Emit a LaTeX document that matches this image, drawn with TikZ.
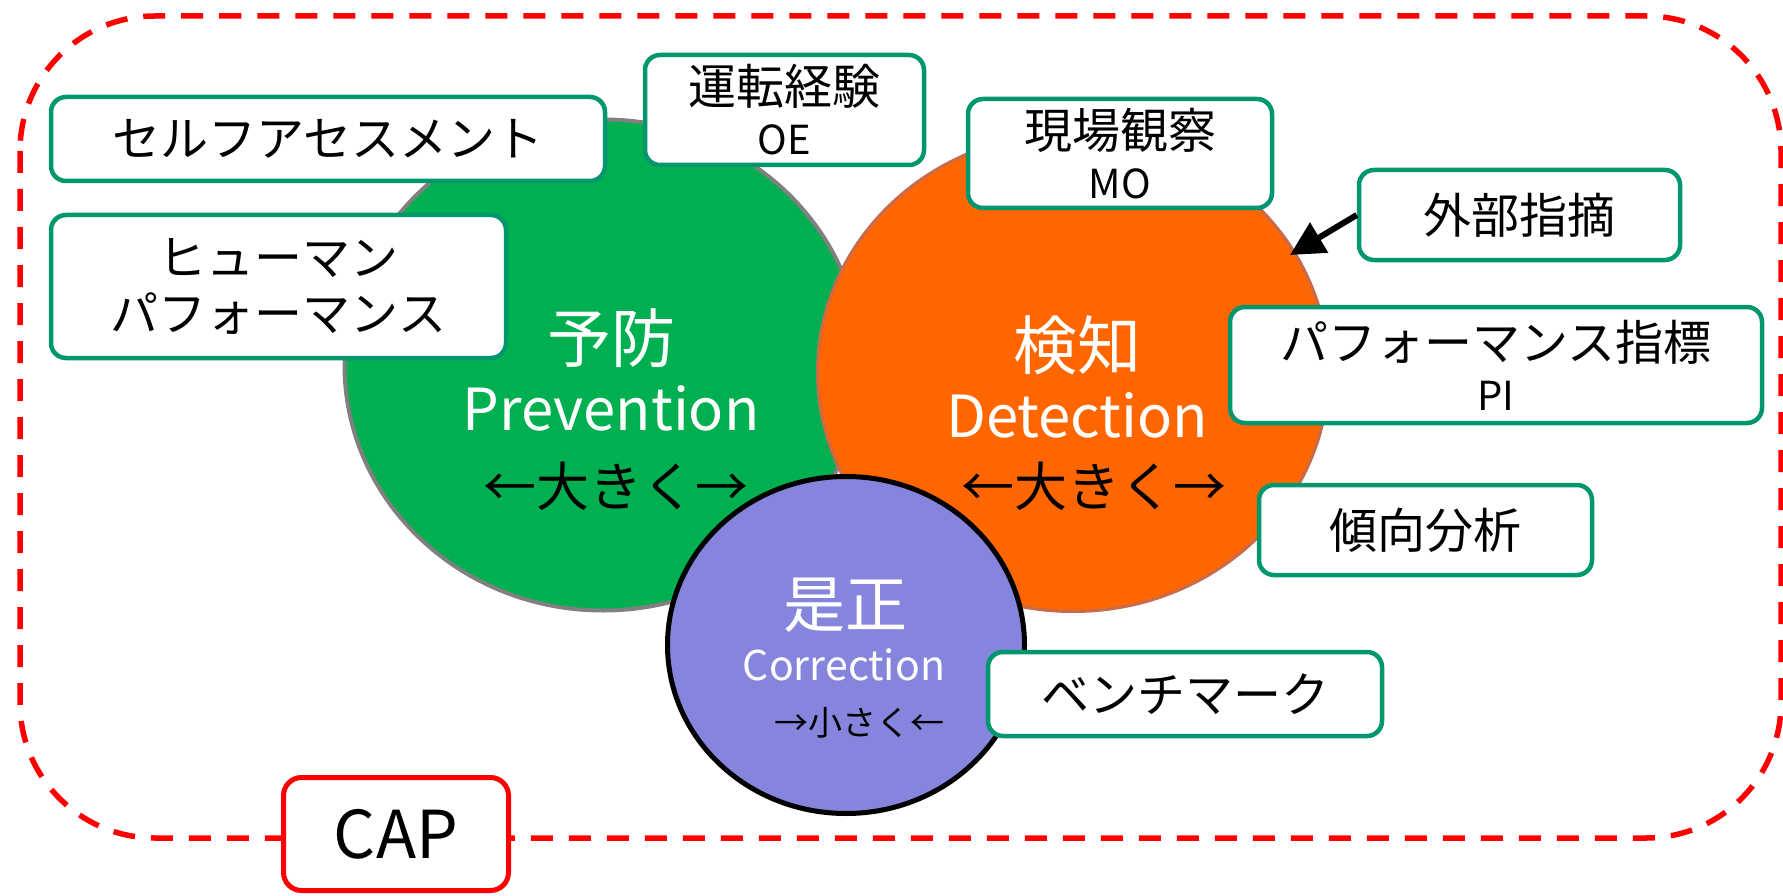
\documentclass[tikz,border=0pt]{standalone}
\usepackage{fontspec}
\setmainfont{Noto Sans CJK JP}
\usetikzlibrary{shapes.geometric,arrows.meta}
\definecolor{cgreen}{HTML}{00B050}
\definecolor{corange}{HTML}{FF6600}
\definecolor{cpurple}{HTML}{8585DD}
\definecolor{corangeline}{HTML}{C86A4C}
\definecolor{cgrayline}{HTML}{808080}
\definecolor{cboxline}{HTML}{00966E}
\definecolor{cred}{HTML}{FF0000}
\newcommand{\fs}[1]{\fontsize{#1}{#1}\selectfont}
\tikzset{
  infobox/.style={draw=cboxline, line width=4.5pt, fill=white, rounded corners=15pt,
    inner sep=0pt, align=center, text=black},
  blob/.style={ellipse, inner sep=0pt},
  intext/.style={text=white, inner sep=0pt},
  arrtext/.style={text=black, inner sep=0pt},
}
\begin{document}
\begin{tikzpicture}[x=1pt,y=-1pt]
\useasboundingbox (0,0) rectangle (1783,896);
% outer dashed frame
\draw[cred, line width=5.5pt, dash pattern=on 22pt off 16pt, rounded corners=135pt]
  (20,16) rectangle (1781,838);
% circles
\node[blob, fill=cgreen, draw=cgrayline, line width=4pt,
  minimum width=517pt, minimum height=491pt] (prev) at (603,365) {};
\node[blob, fill=corange, draw=corangeline, line width=3pt,
  minimum width=511pt, minimum height=479pt] (det) at (1073,372) {};
\node[blob, fill=cpurple, draw=black, line width=5pt,
  minimum width=357pt, minimum height=337pt] (corr) at (846,645) {};
% circle texts
\node[intext, font=\fs{64}] (tprev) at (611,338) {予防};
\node[intext, font=\fs{58}] (tprevE) at (611,408) {Prevention};
\node[arrtext, font=\fs{53}] (tprevA) at (616,486) {←大きく→};
\node[intext, font=\fs{64}] (tdet) at (1077,345) {検知};
\node[intext, font=\fs{58}] (tdetE) at (1077,415) {Detection};
\node[arrtext, font=\fs{53}] (tdetA) at (1094,486) {←大きく→};
\node[intext, font=\fs{62}] (tcorr) at (845,605) {是正};
\node[intext, font=\fs{41}] (tcorrE) at (844,665) {Correction};
\node[arrtext, font=\fs{34}] (tcorrA) at (859,723) {→小さく←};
% boxes
\node[infobox, minimum width=554pt, minimum height=84pt, font=\fs{48}] (self) at (328,139) {セルフアセスメント};
\node[infobox, minimum width=455pt, minimum height=143pt, font=\fontsize{48}{56}\selectfont] (hp) at (278.5,286.5) {ヒューマン\\パフォーマンス};
\node[infobox, minimum width=279pt, minimum height=110pt, font=\fontsize{48}{50}\selectfont] (oe) at (784.5,110) {運転経験\\{\fontsize{40}{50}\selectfont OE}};
\node[infobox, minimum width=304pt, minimum height=109pt, font=\fontsize{48}{50}\selectfont] (mo) at (1120,153.5) {現場観察\\{\fontsize{40}{50}\selectfont MO}};
\node[infobox, minimum width=321pt, minimum height=90pt, font=\fs{48}] (ext) at (1519.5,215) {外部指摘};
\node[infobox, minimum width=532pt, minimum height=116pt, font=\fontsize{48}{50}\selectfont] (pi) at (1496,365) {パフォーマンス指標\\{\fontsize{40}{50}\selectfont PI}};
\node[infobox, minimum width=333pt, minimum height=90pt, font=\fs{48}] (trend) at (1425.5,530) {傾向分析};
\node[infobox, minimum width=394pt, minimum height=84pt, font=\fs{48}] (bench) at (1185,694) {ベンチマーク};
\node[draw=cred, line width=5pt, fill=white, rounded corners=18pt, inner sep=0pt,
  minimum width=225pt, minimum height=113pt, font=\fs{66}] (cap) at (396,834) {CAP};
% arrow
\coordinate (exttip) at (1290,255);
\draw[line width=6pt, -{Triangle[length=34pt,width=34pt]}] (ext.west) -- (exttip);
\end{tikzpicture}
\end{document}
